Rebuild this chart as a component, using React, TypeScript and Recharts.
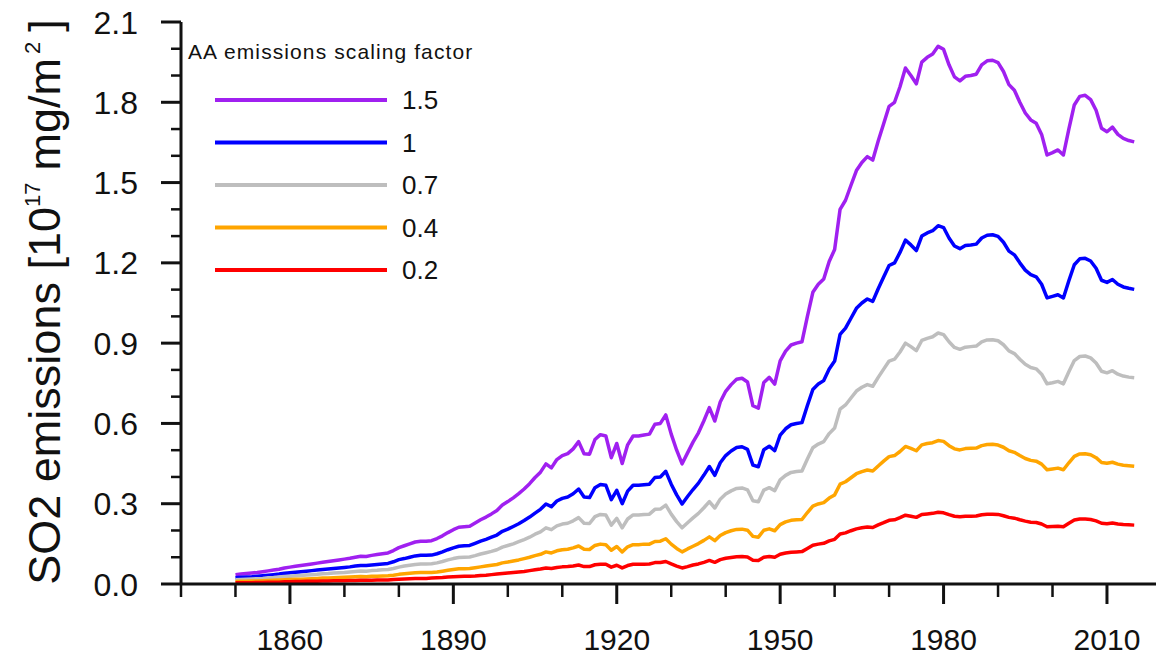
import { LineChart, Line, XAxis, YAxis, Legend } from 'recharts';

// SO2 emissions per scaling factor, one value per year from 1850
const firstYear = 1850;

const scale15 = [
  0.035, 0.037, 0.039, 0.041, 0.043, 0.046, 0.049, 0.052, 0.055, 0.060,
  0.063, 0.066, 0.069, 0.072, 0.075, 0.078, 0.081, 0.084, 0.087, 0.090,
  0.093, 0.096, 0.100, 0.104, 0.103, 0.107, 0.110, 0.113, 0.116, 0.125,
  0.136, 0.143, 0.150, 0.157, 0.160, 0.160, 0.162, 0.170, 0.180, 0.192,
  0.203, 0.212, 0.214, 0.216, 0.228, 0.240, 0.250, 0.262, 0.275, 0.295,
  0.308, 0.322, 0.338, 0.355, 0.375, 0.398, 0.418, 0.449, 0.434, 0.465,
  0.480, 0.487, 0.505, 0.532, 0.487, 0.485, 0.540, 0.558, 0.553, 0.472,
  0.525, 0.450, 0.520, 0.553, 0.553, 0.557, 0.560, 0.597, 0.600, 0.632,
  0.560, 0.500, 0.449, 0.490, 0.530, 0.565, 0.610, 0.659, 0.609, 0.680,
  0.720, 0.745, 0.765, 0.769, 0.755, 0.666, 0.657, 0.753, 0.772, 0.747,
  0.834, 0.870, 0.893, 0.900, 0.905, 1.000, 1.090, 1.120, 1.140, 1.205,
  1.250, 1.400, 1.434, 1.490, 1.545, 1.575, 1.597, 1.584, 1.655, 1.720,
  1.785, 1.800, 1.858, 1.928, 1.900, 1.869, 1.950, 1.968, 1.980, 2.009,
  1.998, 1.940, 1.895, 1.880, 1.897, 1.900, 1.905, 1.940, 1.955, 1.957,
  1.948, 1.915, 1.866, 1.845, 1.800, 1.760, 1.734, 1.722, 1.680, 1.603,
  1.612, 1.622, 1.603, 1.700, 1.790, 1.822, 1.826, 1.810, 1.770, 1.703,
  1.690, 1.707, 1.680, 1.665, 1.657, 1.652,
];

const scale10 = [
  0.023, 0.025, 0.026, 0.027, 0.029, 0.031, 0.033, 0.035, 0.037, 0.040,
  0.042, 0.044, 0.046, 0.048, 0.050, 0.052, 0.054, 0.056, 0.058, 0.060,
  0.062, 0.064, 0.067, 0.069, 0.069, 0.071, 0.073, 0.075, 0.077, 0.083,
  0.091, 0.095, 0.100, 0.105, 0.107, 0.107, 0.108, 0.113, 0.120, 0.128,
  0.135, 0.141, 0.143, 0.144, 0.152, 0.160, 0.167, 0.175, 0.183, 0.197,
  0.205, 0.215, 0.225, 0.237, 0.250, 0.265, 0.279, 0.299, 0.289, 0.310,
  0.320, 0.325, 0.337, 0.355, 0.325, 0.323, 0.360, 0.372, 0.369, 0.315,
  0.350, 0.300, 0.347, 0.369, 0.369, 0.371, 0.373, 0.398, 0.400, 0.421,
  0.373, 0.333, 0.299, 0.327, 0.353, 0.377, 0.407, 0.439, 0.406, 0.453,
  0.480, 0.497, 0.510, 0.513, 0.503, 0.444, 0.438, 0.502, 0.515, 0.498,
  0.556, 0.580, 0.595, 0.600, 0.603, 0.667, 0.727, 0.747, 0.760, 0.803,
  0.833, 0.933, 0.956, 0.993, 1.030, 1.050, 1.065, 1.056, 1.103, 1.147,
  1.190, 1.200, 1.239, 1.285, 1.267, 1.246, 1.300, 1.312, 1.320, 1.339,
  1.332, 1.293, 1.263, 1.253, 1.265, 1.267, 1.270, 1.293, 1.303, 1.305,
  1.299, 1.277, 1.244, 1.230, 1.200, 1.173, 1.156, 1.148, 1.120, 1.069,
  1.075, 1.081, 1.069, 1.133, 1.193, 1.215, 1.217, 1.207, 1.180, 1.135,
  1.127, 1.138, 1.120, 1.110, 1.105, 1.101,
];

const scale07 = [
  0.016, 0.017, 0.018, 0.019, 0.020, 0.021, 0.023, 0.024, 0.026, 0.028,
  0.029, 0.031, 0.032, 0.034, 0.035, 0.036, 0.038, 0.039, 0.041, 0.042,
  0.043, 0.045, 0.047, 0.049, 0.048, 0.050, 0.051, 0.053, 0.054, 0.058,
  0.063, 0.067, 0.070, 0.073, 0.075, 0.075, 0.076, 0.079, 0.084, 0.090,
  0.095, 0.099, 0.100, 0.101, 0.106, 0.112, 0.117, 0.122, 0.128, 0.138,
  0.144, 0.150, 0.158, 0.166, 0.175, 0.186, 0.195, 0.210, 0.203, 0.217,
  0.224, 0.227, 0.236, 0.248, 0.227, 0.226, 0.252, 0.260, 0.258, 0.220,
  0.245, 0.210, 0.243, 0.258, 0.258, 0.260, 0.261, 0.279, 0.280, 0.295,
  0.261, 0.233, 0.210, 0.229, 0.247, 0.264, 0.285, 0.308, 0.284, 0.317,
  0.336, 0.348, 0.357, 0.359, 0.352, 0.311, 0.307, 0.351, 0.360, 0.349,
  0.389, 0.406, 0.417, 0.420, 0.422, 0.467, 0.509, 0.523, 0.532, 0.562,
  0.583, 0.653, 0.669, 0.695, 0.721, 0.735, 0.745, 0.739, 0.772, 0.803,
  0.833, 0.840, 0.867, 0.900, 0.887, 0.872, 0.910, 0.918, 0.924, 0.938,
  0.932, 0.905, 0.884, 0.877, 0.885, 0.887, 0.889, 0.905, 0.912, 0.913,
  0.909, 0.894, 0.871, 0.861, 0.840, 0.821, 0.809, 0.804, 0.784, 0.748,
  0.752, 0.757, 0.748, 0.793, 0.835, 0.850, 0.852, 0.845, 0.826, 0.795,
  0.789, 0.797, 0.784, 0.777, 0.773, 0.771,
];

const scale04 = [
  0.009, 0.010, 0.010, 0.011, 0.011, 0.012, 0.013, 0.014, 0.015, 0.016,
  0.017, 0.018, 0.018, 0.019, 0.020, 0.021, 0.022, 0.022, 0.023, 0.024,
  0.025, 0.026, 0.027, 0.028, 0.027, 0.029, 0.029, 0.030, 0.031, 0.033,
  0.036, 0.038, 0.040, 0.042, 0.043, 0.043, 0.043, 0.045, 0.048, 0.051,
  0.054, 0.057, 0.057, 0.058, 0.061, 0.064, 0.067, 0.070, 0.073, 0.079,
  0.082, 0.086, 0.090, 0.095, 0.100, 0.106, 0.111, 0.120, 0.116, 0.124,
  0.128, 0.130, 0.135, 0.142, 0.130, 0.129, 0.144, 0.149, 0.147, 0.126,
  0.140, 0.120, 0.139, 0.147, 0.147, 0.149, 0.149, 0.159, 0.160, 0.169,
  0.149, 0.133, 0.120, 0.131, 0.141, 0.151, 0.163, 0.176, 0.162, 0.181,
  0.192, 0.199, 0.204, 0.205, 0.201, 0.178, 0.175, 0.201, 0.206, 0.199,
  0.222, 0.232, 0.238, 0.240, 0.241, 0.267, 0.291, 0.299, 0.304, 0.321,
  0.333, 0.373, 0.382, 0.397, 0.412, 0.420, 0.426, 0.422, 0.441, 0.459,
  0.476, 0.480, 0.495, 0.514, 0.507, 0.498, 0.520, 0.525, 0.528, 0.536,
  0.533, 0.517, 0.505, 0.501, 0.506, 0.507, 0.508, 0.517, 0.521, 0.522,
  0.519, 0.511, 0.498, 0.492, 0.480, 0.469, 0.462, 0.459, 0.448, 0.427,
  0.430, 0.433, 0.427, 0.453, 0.477, 0.486, 0.487, 0.483, 0.472, 0.454,
  0.451, 0.455, 0.448, 0.444, 0.442, 0.440,
];

const scale02 = [
  0.005, 0.005, 0.005, 0.005, 0.006, 0.006, 0.007, 0.007, 0.007, 0.008,
  0.008, 0.009, 0.009, 0.010, 0.010, 0.010, 0.011, 0.011, 0.012, 0.012,
  0.012, 0.013, 0.013, 0.014, 0.014, 0.014, 0.015, 0.015, 0.015, 0.017,
  0.018, 0.019, 0.020, 0.021, 0.021, 0.021, 0.022, 0.023, 0.024, 0.026,
  0.027, 0.028, 0.029, 0.029, 0.030, 0.032, 0.033, 0.035, 0.037, 0.039,
  0.041, 0.043, 0.045, 0.047, 0.050, 0.053, 0.056, 0.060, 0.058, 0.062,
  0.064, 0.065, 0.067, 0.071, 0.065, 0.065, 0.072, 0.074, 0.074, 0.063,
  0.070, 0.060, 0.069, 0.074, 0.074, 0.074, 0.075, 0.080, 0.080, 0.084,
  0.075, 0.067, 0.060, 0.065, 0.071, 0.075, 0.081, 0.088, 0.081, 0.091,
  0.096, 0.099, 0.102, 0.103, 0.101, 0.089, 0.088, 0.100, 0.103, 0.100,
  0.111, 0.116, 0.119, 0.120, 0.121, 0.133, 0.145, 0.149, 0.152, 0.161,
  0.167, 0.187, 0.191, 0.199, 0.206, 0.210, 0.213, 0.211, 0.221, 0.229,
  0.238, 0.240, 0.248, 0.257, 0.253, 0.249, 0.260, 0.262, 0.264, 0.268,
  0.266, 0.259, 0.253, 0.251, 0.253, 0.253, 0.254, 0.259, 0.261, 0.261,
  0.260, 0.255, 0.249, 0.246, 0.240, 0.235, 0.231, 0.230, 0.224, 0.214,
  0.215, 0.216, 0.214, 0.227, 0.239, 0.243, 0.243, 0.241, 0.236, 0.227,
  0.225, 0.228, 0.224, 0.222, 0.221, 0.220,
];

const xTicks = [1840, 1850, 1860, 1870, 1880, 1890, 1900, 1910, 1920, 1930, 1940, 1950, 1960, 1970, 1980, 1990, 2000, 2010];
const yTicks = [0, 0.1, 0.2, 0.3, 0.4, 0.5, 0.6, 0.7, 0.8, 0.9, 1.0, 1.1, 1.2, 1.3, 1.4, 1.5, 1.6, 1.7, 1.8, 1.9, 2.0, 2.1];

const series = [
  { key: 's15', label: '1.5', color: '#a020f0', values: scale15 },
  { key: 's10', label: '1', color: '#0000ff', values: scale10 },
  { key: 's07', label: '0.7', color: '#bebebe', values: scale07 },
  { key: 's04', label: '0.4', color: '#ffa500', values: scale04 },
  { key: 's02', label: '0.2', color: '#ff0000', values: scale02 },
];

const rows = scale15.map((_, i) => {
  const row: Record<string, number> = { year: firstYear + i };
  series.forEach((s) => {
    row[s.key] = s.values[i];
  });
  return row;
});

const FONT = '"Liberation Sans", Arial, Helvetica, sans-serif';
const INK = '#111';

function XTick(props: any) {
  const { x, y, payload } = props;
  const major = (payload.value - 1860) % 30 === 0;
  return (
    <g>
      <line x1={x} y1={y} x2={x} y2={y + (major ? 20 : 13)} stroke={INK} strokeWidth={major ? 3 : 2.5} />
      {major && (
        <text x={x} y={y + 66} textAnchor="middle" fontSize={30} fontFamily={FONT} fill={INK}>
          {payload.value}
        </text>
      )}
    </g>
  );
}

function YTick(props: any) {
  const { x, y, payload } = props;
  const major = Math.round(payload.value * 10) % 3 === 0;
  return (
    <g>
      <line x1={x} y1={y} x2={x - (major ? 20 : 10)} y2={y} stroke={INK} strokeWidth={major ? 3 : 2.5} />
      {major && (
        <text x={x - 43} y={y} dy="0.36em" textAnchor="end" fontSize={32} fontFamily={FONT} fill={INK}>
          {payload.value.toFixed(1)}
        </text>
      )}
    </g>
  );
}

function YLabel() {
  const cx = 60;
  const cy = 302;
  return (
    <text
      x={cx}
      y={cy}
      transform={`rotate(-90, ${cx}, ${cy})`}
      textAnchor="middle"
      fontSize={45}
      fontFamily={FONT}
      fill={INK}
    >
      <tspan>SO2 emissions [10</tspan>
      <tspan dy={-20} fontSize={22}>17</tspan>
      <tspan dx={12} dy={20}>mg/m</tspan>
      <tspan dx={4} dy={-20} fontSize={22}>2</tspan>
      <tspan dx={10} dy={20}>]</tspan>
    </text>
  );
}

function ScaleLegend() {
  return (
    <svg width={320} height={270} style={{ display: 'block' }}>
      <text x={8} y={37} fontSize={21} letterSpacing={1.1} fontFamily={FONT} fill={INK}>
        AA emissions scaling factor
      </text>
      {series.map((s, i) => {
        const y = 78 + i * 42.5;
        return (
          <g key={s.key}>
            <line x1={35} y1={y} x2={207} y2={y} stroke={s.color} strokeWidth={4} />
            <text x={222} y={y} dy="0.36em" fontSize={26} fontFamily={FONT} fill={INK}>
              {s.label}
            </text>
          </g>
        );
      })}
    </svg>
  );
}

export default function App() {
  return (
    <div style={{ width: 1158, height: 657, background: '#fff' }}>
      <style>{'body { margin: 0; }'}</style>
      <LineChart width={1158} height={657} data={rows} margin={{ top: 22, right: 2, bottom: 0, left: 0 }}>
        <XAxis
          xAxisId="bottom"
          dataKey="year"
          type="number"
          domain={[1840, 2019]}
          ticks={xTicks}
          interval={0}
          height={73}
          tickSize={0}
          tickMargin={0}
          tickLine={false}
          axisLine={{ stroke: INK, strokeWidth: 3 }}
          tick={<XTick />}
        />
        <XAxis
          xAxisId="top"
          orientation="top"
          dataKey="year"
          type="number"
          domain={[1840, 2019]}
          height={0}
          tick={false}
          tickLine={false}
          axisLine={{ stroke: INK, strokeWidth: 3 }}
        />
        <YAxis
          yAxisId="left"
          type="number"
          domain={[0, 2.1]}
          ticks={yTicks}
          interval={0}
          width={181}
          tickSize={0}
          tickMargin={0}
          tickLine={false}
          axisLine={{ stroke: INK, strokeWidth: 3 }}
          tick={<YTick />}
          label={{ content: <YLabel /> }}
        />
        <YAxis
          yAxisId="right"
          orientation="right"
          type="number"
          domain={[0, 2.1]}
          width={0}
          tick={false}
          tickLine={false}
          axisLine={{ stroke: INK, strokeWidth: 3 }}
        />
        <Legend
          layout="vertical"
          align="center"
          verticalAlign="middle"
          content={<ScaleLegend />}
          wrapperStyle={{ position: 'absolute', left: 180, top: 22, width: 320, height: 270 }}
        />
        {series.map((s) => (
          <Line
            key={s.key}
            xAxisId="bottom"
            yAxisId="left"
            type="linear"
            dataKey={s.key}
            name={s.label}
            stroke={s.color}
            strokeWidth={3.5}
            strokeLinejoin="round"
            dot={false}
            isAnimationActive={false}
          />
        ))}
      </LineChart>
    </div>
  );
}
